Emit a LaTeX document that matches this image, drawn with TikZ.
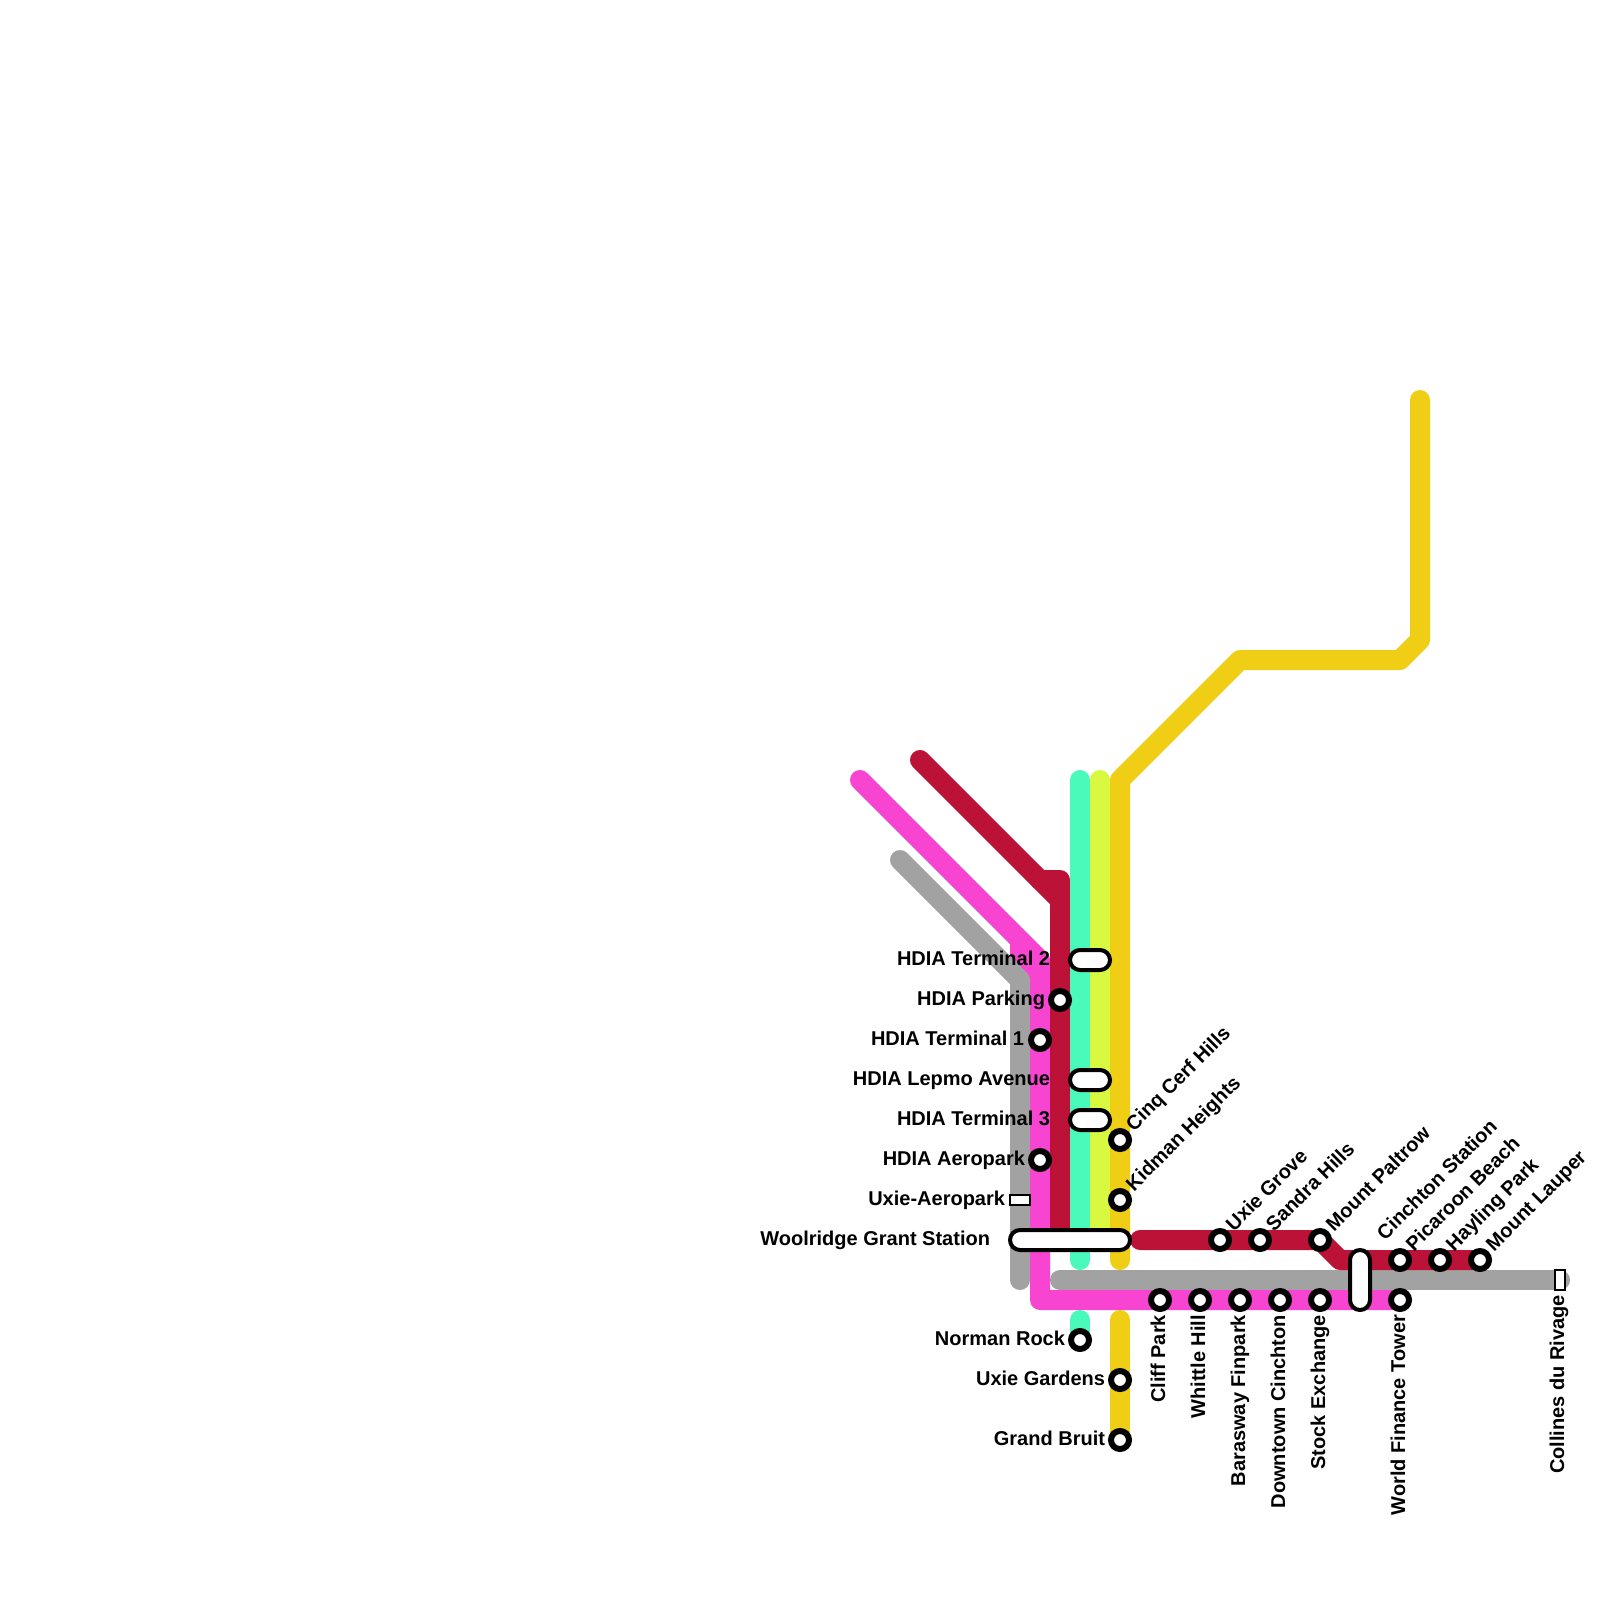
\documentclass[tikz,border=0pt]{standalone}
\usepackage{fontspec}
\setmainfont{Liberation Sans}
\definecolor{cpink}{HTML}{F745D2}
\definecolor{cred}{HTML}{BC1237}
\definecolor{cgreen}{HTML}{4AFABA}
\definecolor{clime}{HTML}{D9F840}
\definecolor{cyell}{HTML}{F0CE15}
\definecolor{cgrey}{HTML}{A2A2A2}
\tikzset{
 route/.style={line width=10pt,line cap=round,line join=round},
 stn/.style={circle,draw=black,fill=white,line width=3pt,minimum size=9pt,inner sep=0pt,outer sep=0pt},
 pill/.style={rectangle,rounded corners=5pt,draw=black,fill=white,line width=2pt,inner sep=0pt,outer sep=0pt},
 hpill/.style={pill,minimum height=10pt},
 vpill/.style={pill,minimum width=10pt},
 term/.style={rectangle,draw=black,fill=white,line width=1pt,inner sep=0pt,outer sep=0pt},
 lab/.style={font=\fontsize{10}{12}\selectfont\bfseries,text=black,inner sep=0pt,outer sep=0pt},
 labL/.style={lab,anchor=base east},
 labD/.style={lab,anchor=base east,rotate=90},
 labU/.style={lab,anchor=base west,rotate=45},
}
\begin{document}
\begin{tikzpicture}[x=0.5pt,y=-0.5pt]
\useasboundingbox (0,0) rectangle (1600,1600);
\fill[white] (0,0) rectangle (1600,1600);
% route way-points
\coordinate (pA) at (860,780); \coordinate (pB) at (1040,960); \coordinate (pC) at (1040,1300); \coordinate (pD) at (1400,1300);
\coordinate (pE) at (1020,940); \coordinate (pF) at (1020,980);
\coordinate (gA) at (900,860); \coordinate (gB) at (1020,980); \coordinate (gC) at (1020,1280);
\coordinate (hA) at (1060,1280); \coordinate (hB) at (1560,1280);
\coordinate (rA) at (920,760); \coordinate (rB) at (1040,880); \coordinate (rC) at (1060,880); \coordinate (rE) at (1060,900); \coordinate (rD) at (1060,1240);
\coordinate (sA) at (1140,1240); \coordinate (sB) at (1320,1240); \coordinate (sC) at (1340,1260); \coordinate (sD) at (1480,1260);
\coordinate (nA) at (1080,780); \coordinate (nB) at (1080,1260); \coordinate (nC) at (1080,1320); \coordinate (nD) at (1080,1340);
\coordinate (lA) at (1100,780); \coordinate (lB) at (1100,1240);
\coordinate (yA) at (1420,400); \coordinate (yB) at (1420,640); \coordinate (yC) at (1400,660); \coordinate (yD) at (1240,660);
\coordinate (yE) at (1120,780); \coordinate (yF) at (1120,1260); \coordinate (yG) at (1120,1320); \coordinate (yH) at (1120,1440);
% routes
\draw[cpink,line width=10pt] (pE) -- (pF);
\draw[route,cpink] (pA) -- (pB) -- (pC) -- (pD);
\draw[route,cgrey] (gA) -- (gB) -- (gC);
\draw[route,cgrey] (hA) -- (hB);
\draw[route,cred] (rA) -- (rE) -- (rD);
\draw[route,cred] (rB) -- (rC) -- (rE);
\draw[route,cred] (sA) -- (sB) -- (sC) -- (sD);
\draw[route,cgreen] (nA) -- (nB);
\draw[route,cgreen] (nC) -- (nD);
\draw[route,clime] (lA) -- (lB);
\draw[route,cyell] (yA) -- (yB) -- (yC) -- (yD) -- (yE) -- (yF);
\draw[route,cyell] (yG) -- (yH);
% interchanges
\node[hpill,minimum width=20pt] (t2) at (1090,960) {};
\node[hpill,minimum width=20pt] (lepmo) at (1090,1080) {};
\node[hpill,minimum width=20pt] (t3) at (1090,1120) {};
\node[hpill,minimum width=60pt] (wool) at (1070,1240) {};
\node[vpill,minimum height=30pt] (cinch) at (1360,1280) {};
\node[term,minimum width=10pt,minimum height=5pt] (uaero) at (1020,1200) {};
\node[term,minimum width=5pt,minimum height=10pt] (coll) at (1560,1280) {};
% stations
\foreach \n/\x/\y in {park/1060/1000,t1/1040/1040,aero/1040/1160,cinq/1120/1140,kid/1120/1200,norm/1080/1340,ugard/1120/1380,grand/1120/1440,cliff/1160/1300,whit/1200/1300,bara/1240/1300,down/1280/1300,stock/1320/1300,wft/1400/1300,ugrov/1220/1240,sand/1260/1240,pal/1320/1240,pic/1400/1260,hay/1440/1260,laup/1480/1260}
  \node[stn] (\n) at (\x,\y) {};
% labels
\node[labL] (lt2) at (1050,965) {HDIA Terminal 2};
\node[labL] (lpark) at (1045,1005) {HDIA Parking};
\node[labL] (lt1) at (1024,1045) {HDIA Terminal 1};
\node[labL] (llep) at (1050,1085) {HDIA Lepmo Avenue};
\node[labL] (lt3) at (1050,1125) {HDIA Terminal 3};
\node[labL] (laero) at (1025,1165) {HDIA Aeropark};
\node[labL] (luaero) at (1005,1205) {Uxie-Aeropark};
\node[labL] (lwool) at (990,1245) {Woolridge Grant Station};
\node[labL] (lnorm) at (1065,1345) {Norman Rock};
\node[labL] (lugard) at (1105,1385) {Uxie Gardens};
\node[labL] (lgrand) at (1105,1445) {Grand Bruit};
\node[labD] (lcliff) at (1165,1315) {Cliff Park};
\node[labD] (lwhit) at (1205,1315) {Whittle Hill};
\node[labD] (lbara) at (1245,1315) {Barasway Finpark};
\node[labD] (ldown) at (1285,1315) {Downtown Cinchton};
\node[labD] (lstock) at (1325,1315) {Stock Exchange};
\node[labD] (lwft) at (1405,1315) {World Finance Tower};
\node[labD] (lcoll) at (1564,1295) {Collines du Rivage};
\node[labU] (lcinq) at (1134,1132) {Cinq Cerf Hills};
\node[labU] (lkid) at (1134,1192) {Kidman Heights};
\node[labU] (lugrov) at (1234,1232) {Uxie Grove};
\node[labU] (lsand) at (1274,1232) {Sandra Hills};
\node[labU] (lpal) at (1334,1232) {Mount Paltrow};
\node[labU] (lcinch) at (1385,1241) {Cinchton Station};
\node[labU] (lpic) at (1414,1252) {Picaroon Beach};
\node[labU] (lhay) at (1454,1252) {Hayling Park};
\node[labU] (llaup) at (1494,1252) {Mount Lauper};
\end{tikzpicture}
\end{document}
